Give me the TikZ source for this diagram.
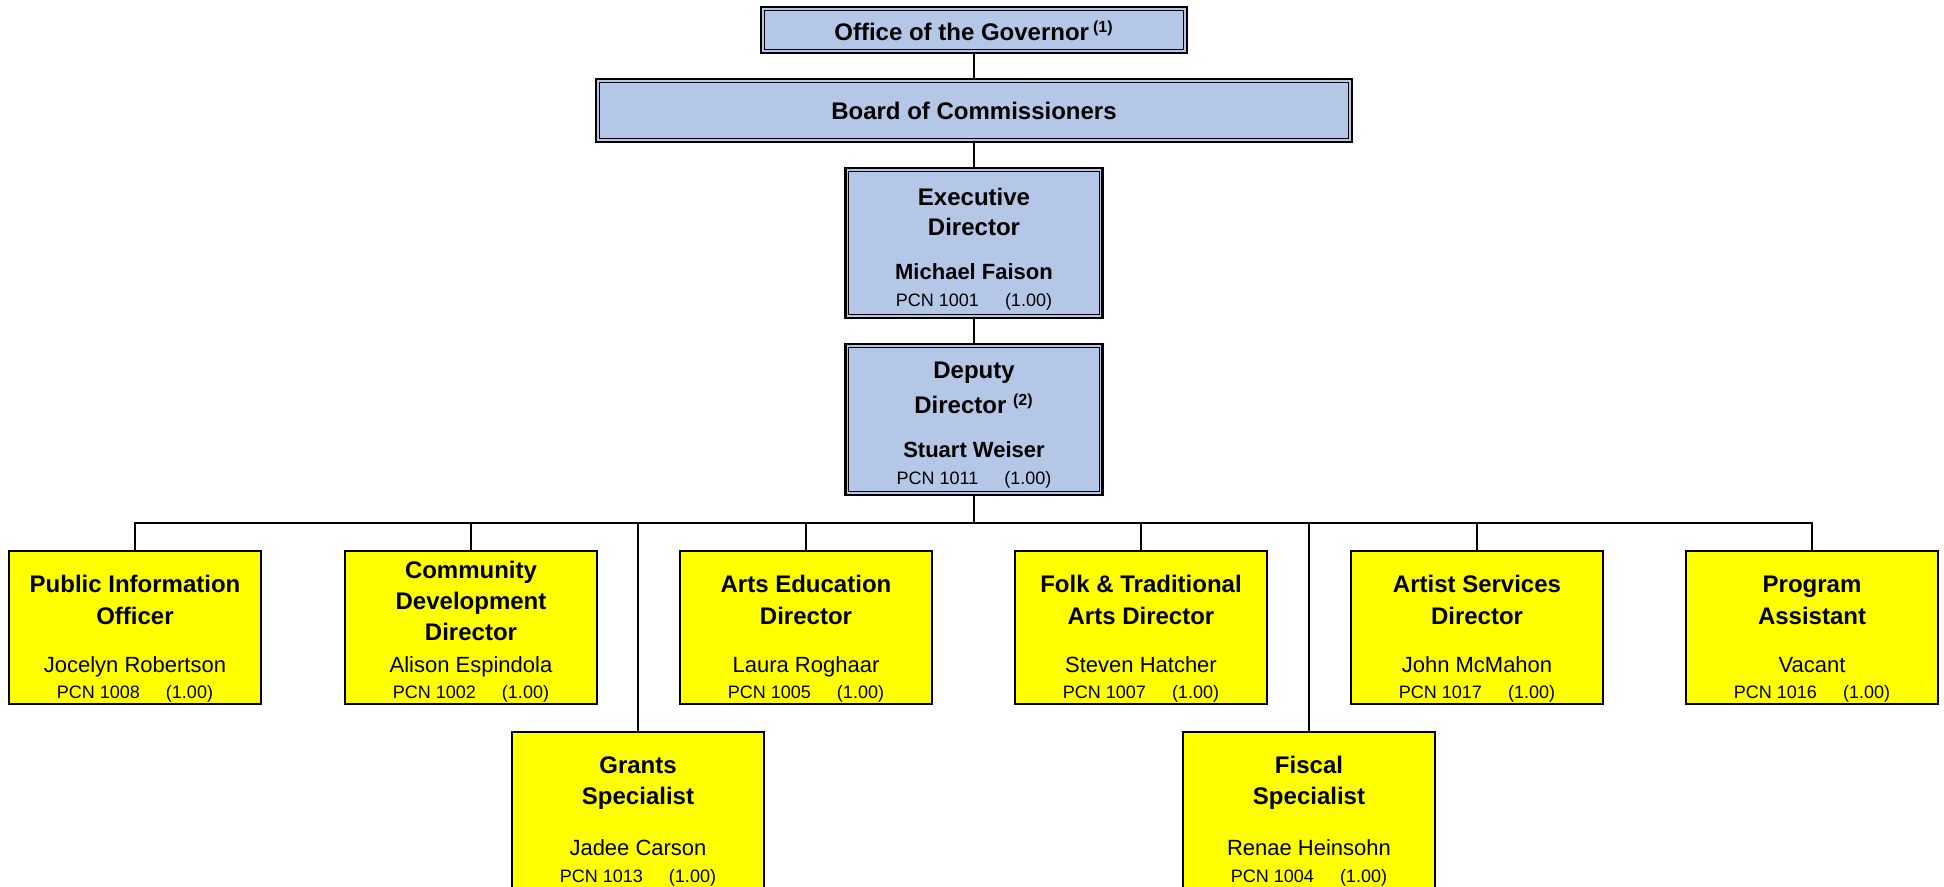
\documentclass[tikz,border=0pt]{standalone}
\usepackage{fontspec}
\setmainfont{Liberation Sans}
\definecolor{boxblue}{RGB}{180,199,231}
\definecolor{boxyellow}{RGB}{255,255,0}
\newcommand{\pcngap}{\hspace{13pt}}
\begin{document}
\begin{tikzpicture}[x=0.5pt,y=-0.5pt,
  bluebox/.style={draw=black, line width=1.3pt, fill=boxblue, inner sep=0pt, rectangle},
  ybox/.style={draw=black, line width=1pt, fill=boxyellow, inner sep=0pt, rectangle, minimum width=126pt, minimum height=76.5pt},
  ybox2/.style={ybox, minimum height=84pt},
  inframe/.style={draw=black, line width=0.55pt},
  conn/.style={draw=black, line width=1pt},
  ttl/.style={anchor=base, font=\fontsize{12}{14}\selectfont\bfseries, inner sep=0pt},
  nm/.style={anchor=base, font=\fontsize{11}{13}\selectfont, inner sep=0pt},
  bnm/.style={anchor=base, font=\fontsize{11}{13}\selectfont\bfseries, inner sep=0pt},
  pcn/.style={anchor=base, font=\fontsize{9}{11}\selectfont, inner sep=0pt}]
\useasboundingbox (0,0) rectangle (1944,887);

% blue boxes
\node[bluebox, minimum width=213pt, minimum height=23pt] (gov) at (974,30) {};
\node[bluebox, minimum width=378pt, minimum height=31.5pt] (board) at (974,110.5) {};
\node[bluebox, minimum width=128.5pt, minimum height=75pt] (exec) at (974,243) {};
\node[bluebox, minimum width=128.5pt, minimum height=75.5pt] (dep) at (974,419.5) {};
\foreach \b in {gov,board,exec,dep}{
  \draw[inframe] ([shift={(4.5,4.5)}]\b.north west) rectangle ([shift={(-4.5,-4.5)}]\b.south east);
}

% yellow boxes
\node[ybox] (pio) at (135,627.5) {};
\node[ybox] (cdd) at (471,627.5) {};
\node[ybox] (aed) at (806,627.5) {};
\node[ybox] (ftd) at (1141,627.5) {};
\node[ybox] (asd) at (1477,627.5) {};
\node[ybox] (pa)  at (1812,627.5) {};
\node[ybox2] (gs) at (638,816) {};
\node[ybox2] (fs) at (1309,816) {};

% connectors
\coordinate (bus) at (974,523);
\draw[conn] (gov.south) -- (board.north);
\draw[conn] (board.south) -- (exec.north);
\draw[conn] (exec.south) -- (dep.north);
\draw[conn] (dep.south) -- (bus);
\draw[conn] (pio.north) |- (bus) -| (pa.north);
\foreach \b in {cdd,aed,ftd,asd,gs,fs}{
  \draw[conn] (\b.north) -- (\b.north |- bus);
}

% texts blue
\node[ttl] (tgov) at (974,41) {Office of the Governor\,\textsuperscript{(1)}};
\node[ttl] (tboard) at (974,119.5) {Board of Commissioners};
\node[ttl] (te1) at (974,205.5) {Executive};
\node[ttl] (te2) at (974,235.5) {Director};
\node[bnm] (te3) at (974,279.5) {Michael Faison};
\node[pcn] (te4) at (974,307) {PCN 1001\pcngap(1.00)};
\node[ttl] (td1) at (974,379) {Deputy};
\node[ttl] (td2) at (974,414) {Director \textsuperscript{(2)}};
\node[bnm] (td3) at (974,458) {Stuart Weiser};
\node[pcn] (td4) at (974,485) {PCN 1011\pcngap(1.00)};

% texts yellow
\node[ttl] (p1) at (135,592.5) {Public Information};
\node[ttl] (p2) at (135,624.5) {Officer};
\node[nm]  (p3) at (135,672.5) {Jocelyn Robertson};
\node[pcn] (p4) at (135,698) {PCN 1008\pcngap(1.00)};

\node[ttl] (c1) at (471,578.5) {Community};
\node[ttl] (c2) at (471,609.5) {Development};
\node[ttl] (c3) at (471,640.5) {Director};
\node[nm]  (c4) at (471,672.5) {Alison Espindola};
\node[pcn] (c5) at (471,698) {PCN 1002\pcngap(1.00)};

\node[ttl] (a1) at (806,592.5) {Arts Education};
\node[ttl] (a2) at (806,624.5) {Director};
\node[nm]  (a3) at (806,672.5) {Laura Roghaar};
\node[pcn] (a4) at (806,698) {PCN 1005\pcngap(1.00)};

\node[ttl] (f1) at (1141,592.5) {Folk \& Traditional};
\node[ttl] (f2) at (1141,624.5) {Arts Director};
\node[nm]  (f3) at (1141,672.5) {Steven Hatcher};
\node[pcn] (f4) at (1141,698) {PCN 1007\pcngap(1.00)};

\node[ttl] (s1) at (1477,592.5) {Artist Services};
\node[ttl] (s2) at (1477,624.5) {Director};
\node[nm]  (s3) at (1477,672.5) {John McMahon};
\node[pcn] (s4) at (1477,698) {PCN 1017\pcngap(1.00)};

\node[ttl] (r1) at (1812,592.5) {Program};
\node[ttl] (r2) at (1812,624.5) {Assistant};
\node[nm]  (r3) at (1812,672.5) {Vacant};
\node[pcn] (r4) at (1812,698) {PCN 1016\pcngap(1.00)};

\node[ttl] (g1) at (638,773.5) {Grants};
\node[ttl] (g2) at (638,804.5) {Specialist};
\node[nm]  (g3) at (638,855.5) {Jadee Carson};
\node[pcn] (g4) at (638,882) {PCN 1013\pcngap(1.00)};

\node[ttl] (h1) at (1309,773.5) {Fiscal};
\node[ttl] (h2) at (1309,804.5) {Specialist};
\node[nm]  (h3) at (1309,855.5) {Renae Heinsohn};
\node[pcn] (h4) at (1309,882) {PCN 1004\pcngap(1.00)};
\end{tikzpicture}
\end{document}
